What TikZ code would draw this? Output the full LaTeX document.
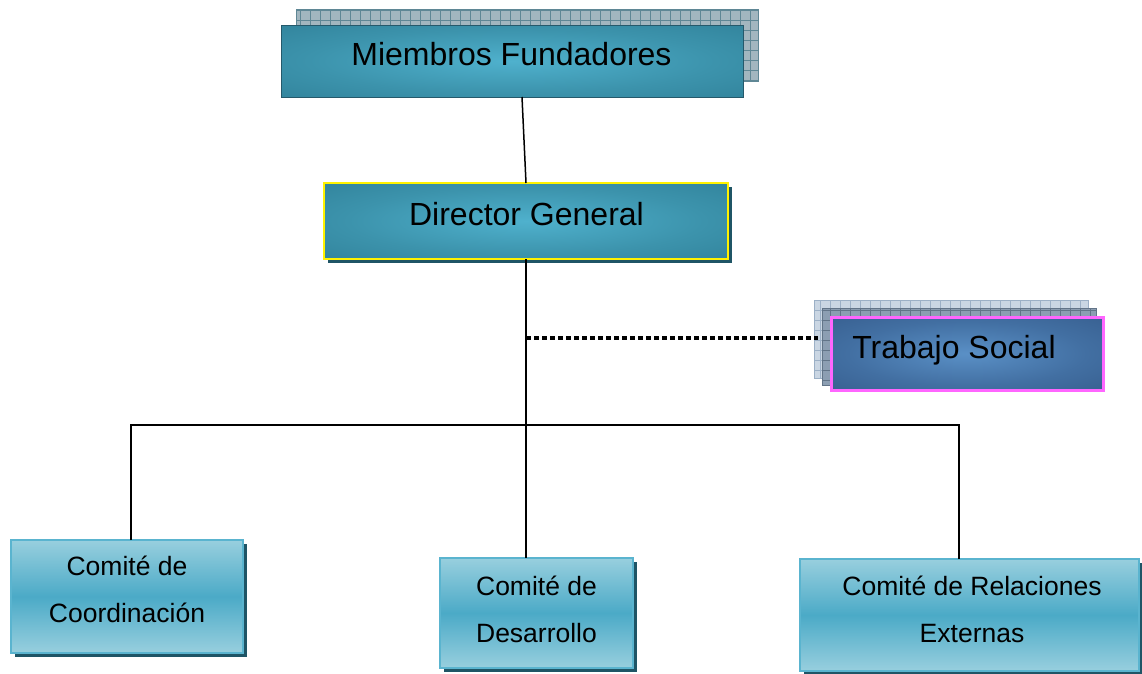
\documentclass[tikz,border=0pt]{standalone}
\usepackage{fontspec}
\setmainfont{Liberation Sans}
\usetikzlibrary{shadows}
\definecolor{tlight}{HTML}{4FB1CD}
\definecolor{tmid}{HTML}{3C93AC}
\definecolor{tdark}{HTML}{2E7E96}
\definecolor{blight}{HTML}{5A90C6}
\definecolor{bmid}{HTML}{426FA2}
\definecolor{bdark}{HTML}{345A8A}
\definecolor{ctop}{HTML}{98CFDE}
\definecolor{cmid}{HTML}{4BAAC7}
\definecolor{cborder}{HTML}{5AB4CF}
\definecolor{shadowc}{HTML}{1F5566}
\definecolor{mfborder}{HTML}{25596B}
\definecolor{gridfillA}{HTML}{A2B6BF}
\definecolor{gridlineA}{HTML}{5F8795}
\definecolor{gridfillB}{HTML}{CAD6E3}
\definecolor{gridlineB}{HTML}{9CB0C6}
\definecolor{gridfillC}{HTML}{8C9EB2}
\definecolor{gridlineC}{HTML}{627488}
\definecolor{tsborder}{HTML}{FF66FF}
\pgfdeclareradialshading{tealrad}{\pgfpoint{0bp}{0bp}}{color(0bp)=(tlight); color(22bp)=(tmid); color(42bp)=(tdark); color(72bp)=(tdark)}
\pgfdeclareradialshading{bluerad}{\pgfpoint{0bp}{0bp}}{color(0bp)=(blight); color(22bp)=(bmid); color(42bp)=(bdark); color(72bp)=(bdark)}
\tikzset{
  bigtext/.style={font=\fontsize{32}{38}\selectfont, anchor=base, inner sep=0pt},
  smalltext/.style={font=\fontsize{26.5}{32}\selectfont, anchor=base, inner sep=0pt},
  tealbox/.style={rectangle, inner sep=0pt, outer sep=0pt, shading=tealrad},
  combox/.style={rectangle, inner sep=0pt, outer sep=0pt, top color=ctop, bottom color=ctop, middle color=cmid, draw=cborder, line width=2pt,
     drop shadow={shadow xshift=4pt, shadow yshift=-4pt, fill=shadowc, opacity=1}},
  conn/.style={draw=black, line width=1.5pt},
  dotline/.style={draw=black, line width=4.5pt, dash pattern=on 4.5pt off 3.5pt},
}
\begin{document}
\begin{tikzpicture}[x=1pt,y=-1pt]
\useasboundingbox (0,0) rectangle (1142,673);
% grid shadow behind Miembros Fundadores
\fill[gridfillA] (296,9) rectangle (758,81);
\draw[gridlineA, line width=0.6pt, step=10pt] (296,9) grid (758,81);
\draw[gridlineA, line width=0.8pt] (296,9) rectangle (758,81);
% grid shadows behind Trabajo Social
\fill[gridfillB] (814,300) rectangle (1088,378);
\draw[gridlineB, line width=0.5pt, step=10pt] (814,300) grid (1088,378);
\draw[gridlineB, line width=0.8pt] (814,300) rectangle (1088,378);
\fill[gridfillC] (822,308) rectangle (1096,385);
\draw[gridlineC, line width=0.5pt, step=10pt] (822,308) grid (1096,385);
\draw[gridlineC, line width=0.8pt] (822,308) rectangle (1096,385);

% boxes
\node[tealbox, draw=mfborder, line width=1pt, minimum width=462pt, minimum height=72pt] (mf) at (512,61) {};
\node[bigtext] (mft) at (511.5,65) {Miembros Fundadores};

\node[tealbox, draw=yellow, line width=2.5pt, minimum width=404pt, minimum height=76pt,
  drop shadow={shadow xshift=4pt, shadow yshift=-4pt, fill=shadowc, opacity=1}] (dg) at (526,221) {};
\node[bigtext] (dgt) at (526.5,225) {Director General};

\node[rectangle, inner sep=0pt, outer sep=0pt, shading=bluerad, draw=tsborder, line width=3pt, minimum width=272pt, minimum height=73pt] (ts) at (967,353.5) {};
\node[bigtext] (tst) at (954,358) {Trabajo Social};

\node[combox, minimum width=232pt, minimum height=113pt] (cc) at (127,596.5) {};
\node[smalltext] (cc1) at (127,575) {Comité de};
\node[smalltext] (cc2) at (127,622) {Coordinación};

\node[combox, minimum width=193pt, minimum height=110pt] (cd) at (536.5,613) {};
\node[smalltext] (cd1) at (536.5,595) {Comité de};
\node[smalltext] (cd2) at (536.5,642) {Desarrollo};

\node[combox, minimum width=339pt, minimum height=112pt] (cr) at (969.5,615) {};
\node[smalltext] (cr1) at (972,595) {Comité de Relaciones};
\node[smalltext] (cr2) at (972,642) {Externas};

% connectors
\draw[conn] ([xshift=10pt]mf.south) -- (dg.north);
\draw[conn] (dg.south) -- (dg.south |- cd.north);
\coordinate (bus) at (526,425);
\draw[conn] ([xshift=4pt]cc.north) |- (bus) -| ([xshift=-10.5pt]cr.north);
\draw[dotline] (dg.south |- 0,338) -- ([xshift=-13pt,yshift=15.5pt]ts.west);
\end{tikzpicture}
\end{document}
